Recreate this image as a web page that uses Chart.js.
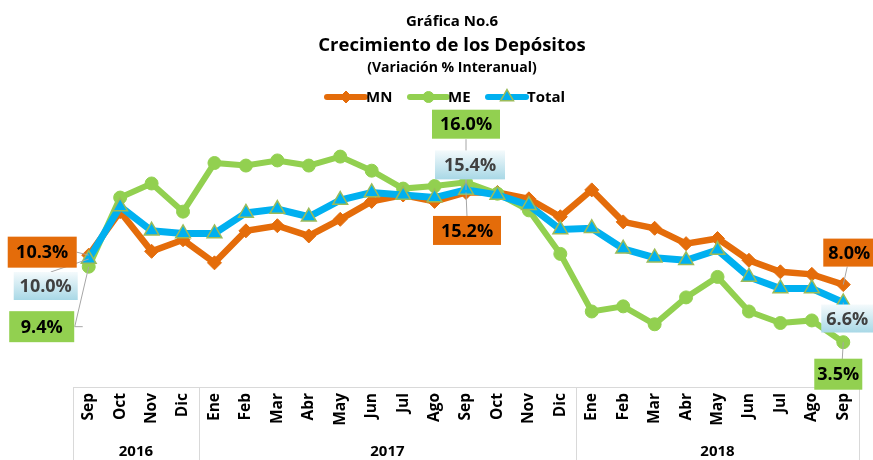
<!DOCTYPE html>
<html>

<head>
    <meta charset="utf-8">
    <title>Gráfica No.6</title>
    <script src="https://cdn.jsdelivr.net/npm/chart.js"></script>
    <style>
        body {
            margin: 0;
            background-color: #FFFFFF;
        }

        .wrap {
            position: relative;
            width: 873px;
            height: 460px;
        }

        .t {
            position: absolute;
            left: 0;
            width: 904px;
            text-align: center;
            font-family: "Open Sans", sans-serif;
            font-weight: bold;
            color: #000;
            height: 24px;
            line-height: 24px;
        }
    </style>
</head>

<body>
    <div class="wrap">
        <canvas id="chart" width="873" height="460"></canvas>
        <div class="t" style="top:8px; font-size:15px;">Gráfica No.6</div>
        <div class="t" style="top:32px; font-size:18.5px;">Crecimiento de los Depósitos</div>
        <div class="t" style="top:55px; font-size:14px;">(Variación % Interanual)</div>
    </div>
</body>
<script>
    // months Sep 2016 - Sep 2018
    var months = ["Sep", "Oct", "Nov", "Dic", "Ene", "Feb", "Mar", "Abr", "May", "Jun", "Jul", "Ago",
        "Sep", "Oct", "Nov", "Dic", "Ene", "Feb", "Mar", "Abr", "May", "Jun", "Jul", "Ago", "Sep"];
    var years = ["2016", "2017", "2018"];
    var yearMonths = [4, 12, 9];

    var mn = [10.3, 13.7, 10.6, 11.5, 9.7, 12.2, 12.6, 11.8, 13.1, 14.5, 15.0, 14.5,
        15.2, 15.2, 14.7, 13.3, 15.4, 12.9, 12.4, 11.2, 11.6, 9.9, 9.0, 8.8, 8.0];
    var me = [9.4, 14.8, 15.9, 13.7, 17.5, 17.3, 17.7, 17.3, 18.0, 16.9, 15.5, 15.7,
        16.0, 15.1, 13.8, 10.4, 5.9, 6.3, 4.9, 7.0, 8.6, 5.9, 5.0, 5.2, 3.5];
    var total = [10.0, 14.1, 12.2, 12.0, 12.0, 13.6, 13.9, 13.3, 14.6, 15.2, 15.0, 14.8,
        15.4, 15.0, 14.2, 12.3, 12.4, 10.8, 10.1, 9.9, 10.7, 8.6, 7.7, 7.7, 6.6];

    var ORANGE = "#E46C0A", GREEN = "#92D050", BLUE = "#00B0F0";
    var FONT = '"Open Sans", sans-serif';

    // label boxes: [dataset, index, dx, dy, w, h, leader]
    var boxes = [
        [0, 0, -46.5, -3, 69, 31, [[-12, -3]]],
        [2, 0, -43, 27, 64, 28, [[-38, 13]]],
        [1, 0, -47, 60, 65, 31, [[-14, 60], [-6, 60]]],
        [1, 12, 0, -58, 68, 29, [[0, -43]]],
        [2, 12, 4, -25, 70, 29, [[0, -10]]],
        [0, 12, 1, 38, 68, 29, [[1, 24]]],
        [0, 24, 6, -32, 52, 28, [[4, -18]]],
        [2, 24, 4, 16, 52, 28, [[0, 2]]],
        [1, 24, -5, 32, 48, 31, [[-1, 17]]]
    ];

    function fillBox(ctx, ds, x, y, w, h) {
        if (ds === 2) {
            var g = ctx.createLinearGradient(0, y, 0, y + h);
            g.addColorStop(0, "#F4FAFC");
            g.addColorStop(1, "#A8D8E6");
            ctx.fillStyle = g;
        } else {
            ctx.fillStyle = ds === 0 ? ORANGE : GREEN;
        }
        ctx.fillRect(x, y, w, h);
    }

    var deco = {
        id: "deco",
        afterDatasetsDraw: function (chart) {
            var ctx = chart.ctx;
            var xs = chart.scales.x;
            var area = chart.chartArea;
            var step = xs.getPixelForValue(1) - xs.getPixelForValue(0);
            ctx.save();

            // category axis
            ctx.strokeStyle = "#D9D9D9";
            ctx.lineWidth = 1;
            ctx.beginPath();
            ctx.moveTo(area.left, area.bottom + 0.5);
            ctx.lineTo(area.right, area.bottom + 0.5);
            var start = 0;
            var bounds = [xs.getPixelForValue(0) - step / 2];
            yearMonths.forEach(function (n) {
                start += n;
                bounds.push(xs.getPixelForValue(start - 1) + step / 2);
            });
            bounds.forEach(function (bx) {
                bx = Math.round(bx) + 0.5;
                ctx.moveTo(bx, area.bottom);
                ctx.lineTo(bx, 460);
            });
            ctx.stroke();

            ctx.fillStyle = "#000";
            ctx.font = "bold 15.5px " + FONT;
            ctx.textAlign = "right";
            ctx.textBaseline = "middle";
            months.forEach(function (m, i) {
                ctx.save();
                ctx.translate(xs.getPixelForValue(i), area.bottom + 6);
                ctx.rotate(-Math.PI / 2);
                ctx.fillText(m, 0, 0);
                ctx.restore();
            });
            ctx.textAlign = "center";
            ctx.font = "bold 15px " + FONT;
            years.forEach(function (yr, k) {
                ctx.fillText(yr, (bounds[k] + bounds[k + 1]) / 2, 452);
            });

            // legend
            var leg = [[327, 365, "MN"], [410, 447, "ME"], [488, 526, "Total"]];
            ctx.textAlign = "left";
            ctx.font = "bold 15px " + FONT;
            leg.forEach(function (l, k) {
                var ds = chart.data.datasets[k];
                ctx.strokeStyle = ds.borderColor;
                ctx.lineWidth = 6;
                ctx.lineCap = "round";
                ctx.beginPath();
                ctx.moveTo(l[0], 97);
                ctx.lineTo(l[1], 97);
                ctx.stroke();
                ctx.lineCap = "butt";
                ctx.fillStyle = ds.pointBackgroundColor;
                ctx.strokeStyle = ds.pointBorderColor;
                ctx.lineWidth = ds.pointBorderWidth;
                Chart.helpers.drawPoint(ctx, {
                    pointStyle: ds.pointStyle, rotation: 0, radius: ds.pointRadius - 1,
                    borderWidth: ds.pointBorderWidth
                }, (l[0] + l[1]) / 2, 97);
                ctx.fillStyle = "#000";
                ctx.fillText(l[2], l[1] + 1, 98);
            });

            // data labels
            ctx.font = "bold 18px " + FONT;
            ctx.textAlign = "center";
            boxes.forEach(function (b) {
                var pt = chart.getDatasetMeta(b[0]).data[b[1]];
                ctx.strokeStyle = "#A6A6A6";
                ctx.lineWidth = 1;
                ctx.beginPath();
                ctx.moveTo(pt.x, pt.y);
                b[6].forEach(function (p) {
                    ctx.lineTo(pt.x + p[0], pt.y + p[1]);
                });
                ctx.stroke();
            });
            boxes.forEach(function (b) {
                var pt = chart.getDatasetMeta(b[0]).data[b[1]];
                var cx = pt.x + b[2], cy = pt.y + b[3];
                var v = chart.data.datasets[b[0]].data[b[1]];
                fillBox(ctx, b[0], cx - b[4] / 2, cy - b[5] / 2, b[4], b[5]);
                ctx.fillStyle = b[0] === 2 ? "#404040" : "#000";
                ctx.fillText(v.toFixed(1) + "%", cx, cy + 1);
            });
            ctx.restore();
        }
    };

    var ctx = document.getElementById("chart").getContext("2d");
    new Chart(ctx, {
        type: "line",
        data: {
            labels: months,
            datasets: [{
                label: "MN",
                data: mn,
                borderColor: ORANGE,
                borderWidth: 6.5,
                pointStyle: "rectRot",
                pointRadius: 7,
                pointBackgroundColor: ORANGE,
                pointBorderColor: ORANGE,
                pointBorderWidth: 1,
                order: 3
            }, {
                label: "ME",
                data: me,
                borderColor: GREEN,
                borderWidth: 6,
                pointStyle: "circle",
                pointRadius: 6.5,
                pointBackgroundColor: GREEN,
                pointBorderColor: GREEN,
                pointBorderWidth: 1,
                order: 2
            }, {
                label: "Total",
                data: total,
                borderColor: BLUE,
                borderWidth: 7,
                pointStyle: "triangle",
                pointRadius: 8.5,
                pointBackgroundColor: BLUE,
                pointBorderColor: "#9BBB59",
                pointBorderWidth: 1.5,
                order: 1
            }]
        },
        options: {
            responsive: false,
            animation: false,
            layout: { padding: { left: 73, right: 14, top: 131, bottom: 73 } },
            elements: { line: { tension: 0 } },
            scales: {
                x: { display: false, offset: true },
                y: { display: false, min: 0, max: 20 }
            },
            plugins: {
                legend: { display: false },
                tooltip: { enabled: false }
            }
        },
        plugins: [deco]
    });
</script>

</html>
